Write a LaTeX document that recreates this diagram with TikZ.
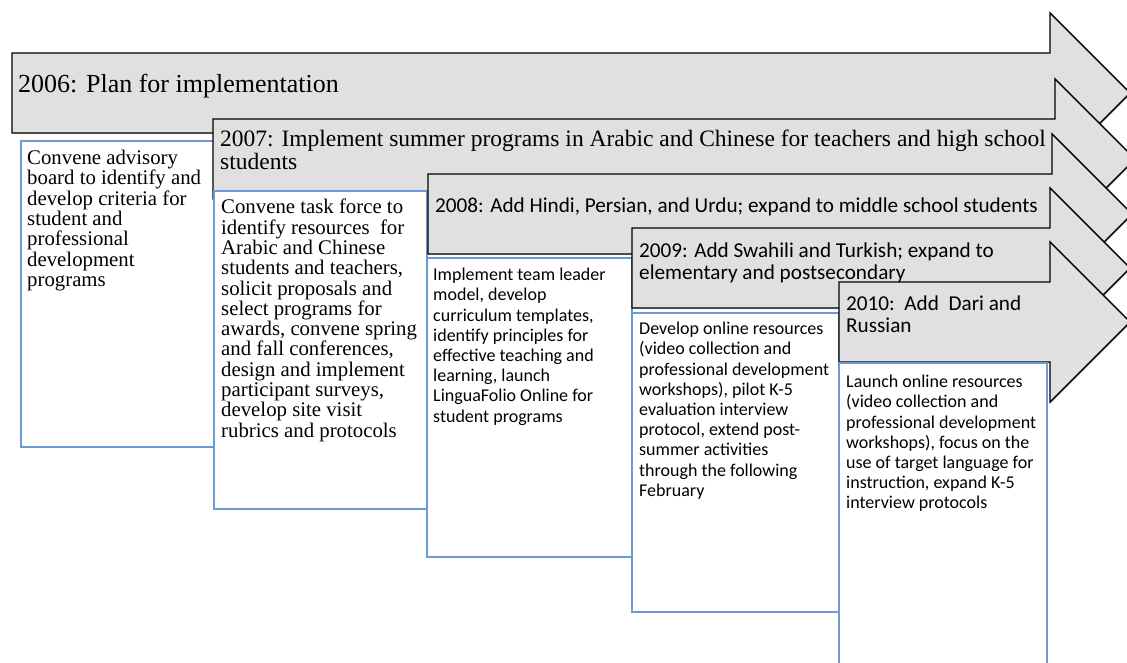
\documentclass[tikz,border=0pt]{standalone}
\usepackage{fontspec}
\setmainfont{Liberation Serif}
\newfontfamily\calibrifont{Carlito}
\usetikzlibrary{shadows}

\definecolor{arrowgrey}{RGB}{224,224,224}
\definecolor{boxblue}{RGB}{108,155,210}

\begin{document}
\begin{tikzpicture}[x=1pt,y=-1pt,
  yeararrow/.style={draw=black,line width=1.4pt,fill=arrowgrey,
    drop shadow={shadow xshift=1.2pt,shadow yshift=-1.2pt,opacity=0.35}},
  notebox/.style={draw=boxblue,line width=1.5pt,fill=white},
  serifnote/.style={anchor=north west,inner sep=0pt,align=left,
    font=\fontsize{20.8}{20.3}\selectfont},
  sansnote/.style={anchor=north west,inner sep=0pt,align=left,
    font=\calibrifont\fontsize{18}{20.2}\selectfont},
  sanstitle/.style={anchor=north west,inner sep=0pt,align=left,
    font=\calibrifont\fontsize{21.2}{22}\selectfont}]
  \useasboundingbox (0,0) rectangle (1127,663);
  % 2006
  \draw[yeararrow] (12,53) -- (1050,53) -- (1050,13) -- (1130,93) -- (1050,173) -- (1050,133) -- (12,133) -- cycle;
  \node[anchor=base west,inner sep=0pt,font=\fontsize{26}{26}\selectfont] (title2006) at (18,93) {2006: Plan for implementation};
  \draw[notebox] (21,141) rectangle (214,447);
  \node[serifnote] (note2006) at (27,150) {Convene advisory\\board to identify and\\develop criteria for\\student and\\professional\\development\\programs};
  % 2007
  \draw[yeararrow] (213,119) -- (1055,119) -- (1055,79) -- (1135,159) -- (1055,239) -- (1055,199) -- (213,199) -- cycle;
  \node[anchor=north west,inner sep=0pt,align=left,font=\fontsize{23.5}{23}\selectfont] (title2007) at (220,130)
    {2007: Implement summer programs in Arabic and Chinese for teachers and high school\\students};
  \draw[notebox] (214,191) rectangle (427,509);
  \node[serifnote] (note2007) at (221,199) {Convene task force to\\identify resources\ \ for\\Arabic and Chinese\\students and teachers,\\solicit proposals and\\select programs for\\awards, convene spring\\and fall conferences,\\design and implement\\participant surveys,\\develop site visit\\rubrics and protocols};
  % 2008
  \draw[yeararrow] (428,174) -- (1052,174) -- (1052,134) -- (1132,214) -- (1052,294) -- (1052,254) -- (428,254) -- cycle;
  \node[anchor=base west,inner sep=0pt,font=\calibrifont\fontsize{21.2}{22}\selectfont] (title2008) at (435,213)
    {2008: Add Hindi, Persian, and Urdu; expand to middle school students};
  \draw[notebox] (427,258) rectangle (632,557);
  \node[sansnote] (note2008) at (433,268) {Implement team leader\\model, develop\\curriculum templates,\\identify principles for\\effective teaching and\\learning, launch\\LinguaFolio Online for\\student programs};
  % 2009
  \draw[yeararrow] (632,228) -- (1050,228) -- (1050,188) -- (1130,268) -- (1050,348) -- (1050,308) -- (632,308) -- cycle;
  \node[sanstitle] (title2009) at (639,243) {2009: Add Swahili and Turkish; expand to\\elementary and postsecondary};
  \draw[notebox] (632,313) rectangle (839,612);
  \node[sansnote] (note2009) at (639,322) {Develop online resources\\(video collection and\\professional development\\workshops), pilot K-5\\evaluation interview\\protocol, extend post-\\summer activities\\through the following\\February};
  % 2010
  \draw[yeararrow] (839,282) -- (1050,282) -- (1050,242) -- (1130,322) -- (1050,402) -- (1050,362) -- (839,362) -- cycle;
  \node[sanstitle] (title2010) at (846,296) {2010:\ \ Add\ \ Dari and\\Russian};
  \draw[notebox] (839,363) rectangle (1047,675);
  \node[sansnote] (note2010) at (846,375) {Launch online resources\\(video collection and\\professional development\\workshops), focus on the\\use of target language for\\instruction, expand K-5\\interview protocols};
\end{tikzpicture}
\end{document}
